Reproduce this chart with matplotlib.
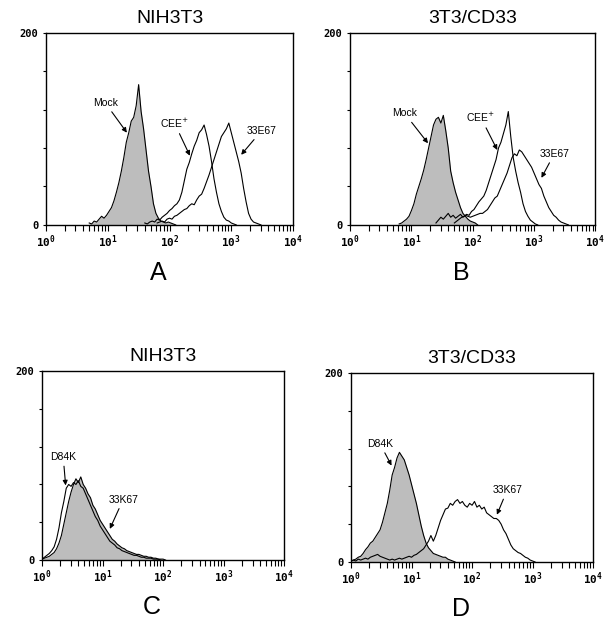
import numpy as np
import matplotlib
matplotlib.use("Agg")
import matplotlib.pyplot as plt

# histogram counts, one value per 0.04-decade bin, starting at the given log10 channel
BIN = 0.04

# panel A  (NIH3T3)
A_MOCK_START = 0.70
A_MOCK = [2, 1, 4, 3, 6, 9, 7, 10, 14, 18, 25, 34, 44, 56, 70, 86, 96, 108, 112, 124,
          146, 118, 100, 78, 56, 40, 22, 12, 7, 4, 3, 2, 3, 2, 1, 0]
A_CEE_START = 1.60
A_CEE = [2, 1, 3, 4, 3, 6, 5, 8, 10, 12, 15, 17, 20, 22, 26, 34, 46, 58, 65, 74,
         82, 88, 96, 99, 104, 94, 82, 66, 48, 34, 22, 14, 8, 5, 4, 2, 1, 0]
A_33E_START = 1.80
A_33E = [2, 3, 4, 3, 6, 7, 6, 9, 10, 12, 14, 16, 17, 20, 22, 21, 26, 30, 32, 38,
         45, 52, 60, 68, 76, 84, 92, 96, 100, 106, 96, 86, 76, 66, 54, 38, 24, 12, 6, 3,
         2, 1, 0]

# panel B  (3T3/CD33)
B_MOCK_START = 0.80
B_MOCK = [1, 2, 4, 6, 9, 15, 22, 32, 40, 48, 57, 68, 80, 92, 104, 110, 112, 106, 114, 98,
          80, 56, 44, 34, 26, 18, 12, 9, 6, 4, 3, 2, 0]
B_CEE_START = 1.70
B_CEE = [2, 4, 6, 8, 9, 11, 10, 14, 16, 20, 24, 27, 30, 36, 44, 52, 60, 68, 80, 86,
         95, 104, 118, 92, 70, 56, 44, 34, 22, 14, 9, 5, 3, 1, 0]
B_33E_START = 1.40
B_33E = [2, 5, 8, 6, 9, 12, 8, 10, 7, 9, 11, 8, 10, 9, 8, 9, 10, 11, 12, 12,
         14, 16, 20, 24, 28, 30, 36, 42, 48, 54, 62, 70, 74, 72, 78, 76, 72, 68, 64, 60,
         54, 48, 42, 38, 30, 24, 18, 14, 10, 8, 5, 3, 2, 1, 0]

# panel C  (NIH3T3)
C_D84K_START = 0.00
C_D84K = [1, 3, 5, 7, 10, 14, 22, 34, 50, 62, 76, 80, 78, 82, 80, 84, 78, 76, 70, 64,
          58, 52, 46, 42, 36, 32, 28, 24, 20, 18, 16, 13, 12, 10, 9, 8, 7, 6, 5, 5,
          4, 3, 3, 2, 2, 2, 1, 1, 1, 0]
C_33K_START = 0.00
C_33K = [1, 2, 3, 4, 6, 8, 12, 18, 26, 38, 50, 62, 72, 80, 86, 82, 88, 80, 76, 70,
         66, 58, 54, 48, 42, 38, 34, 30, 26, 22, 20, 17, 15, 13, 12, 10, 9, 8, 7, 6,
         6, 5, 4, 4, 3, 3, 2, 2, 1, 1, 1, 0]

# panel D  (3T3/CD33)
D_D84K_START = 0.00
D_D84K = [1, 2, 3, 5, 6, 9, 13, 16, 20, 22, 26, 30, 34, 42, 52, 62, 76, 92, 100, 110,
          116, 112, 108, 100, 92, 82, 72, 62, 50, 38, 28, 20, 15, 12, 9, 8, 7, 6, 5, 5,
          3, 2, 1, 0]
D_33K_START = 0.00
D_33K = [1, 2, 1, 3, 2, 3, 4, 3, 5, 6, 7, 8, 6, 5, 4, 3, 2, 3, 2, 3,
         4, 3, 4, 5, 6, 5, 7, 8, 10, 12, 14, 18, 22, 28, 22, 28, 36, 44, 50, 56,
         57, 62, 60, 64, 66, 62, 64, 60, 58, 62, 60, 64, 58, 60, 56, 58, 52, 50, 48, 46,
         46, 44, 40, 34, 30, 24, 18, 14, 12, 10, 9, 7, 5, 4, 2, 1, 0]

TITLES = ["NIH3T3", "3T3/CD33", "NIH3T3", "3T3/CD33"]
LETTERS = ["A", "B", "C", "D"]

GRAY = "#bdbdbd"
MONO = "DejaVu Sans Mono"
SANS = "Liberation Sans"

# axes rectangles in figure fractions
RECTS = [
    [0.0754, 0.643, 0.405, 0.305],
    [0.574, 0.643, 0.402, 0.305],
    [0.0689, 0.111, 0.397, 0.300],
    [0.5754, 0.108, 0.397, 0.300],
]

# (start, counts, filled) curves per panel
PANELS = [
    [(A_MOCK_START, A_MOCK, True), (A_CEE_START, A_CEE, False), (A_33E_START, A_33E, False)],
    [(B_MOCK_START, B_MOCK, True), (B_CEE_START, B_CEE, False), (B_33E_START, B_33E, False)],
    [(C_33K_START, C_33K, True), (C_D84K_START, C_D84K, False)],
    [(D_D84K_START, D_D84K, True), (D_33K_START, D_33K, False)],
]

# label, text position (log10 x, y), arrow head (log10 x, y)
NOTES = [
    [("Mock", (0.96, 127), (1.31, 96)), ("CEE$^{+}$", (2.08, 106), (2.33, 72)),
     ("33E67", (3.49, 98), (3.16, 73))],
    [("Mock", (0.89, 116), (1.27, 85)), ("CEE$^{+}$", (2.13, 112), (2.40, 78)),
     ("33E67", (3.33, 74), (3.12, 49))],
    [("D84K", (0.35, 109), (0.39, 79)), ("33K67", (1.34, 64), (1.12, 33))],
    [("D84K", (0.48, 125), (0.67, 102)), ("33K67", (2.58, 76), (2.41, 50))],
]


def draw_panel(ax, curves, notes, title, letter):
    for start, counts, filled in curves:
        counts = np.asarray(counts, dtype=float)
        x = 10 ** (start + BIN * np.arange(len(counts)))
        if filled:
            ax.fill_between(x, counts, color=GRAY, lw=0, zorder=1)
        ax.plot(x, counts, color="black", lw=0.8, zorder=2)

    for label, (tx, ty), (hx, hy) in notes:
        ax.annotate(label, xy=(10 ** hx, hy), xytext=(10 ** tx, ty),
                    ha="center", va="center", fontsize=7.5, family=SANS,
                    arrowprops=dict(arrowstyle="-|>", color="black", lw=0.8,
                                    mutation_scale=7, shrinkA=1, shrinkB=0))

    ax.set_xscale("log")
    ax.set_xlim(1, 1e4)
    ax.set_ylim(0, 200)
    ax.set_xticks([1, 10, 100, 1000, 10000])
    ax.set_xticklabels([r"$\mathregular{10^{%d}}$" % i for i in range(5)],
                       family=MONO, fontsize=8, fontweight="bold")
    ax.xaxis.set_minor_locator(matplotlib.ticker.LogLocator(base=10, subs=np.arange(2, 10)))
    ax.xaxis.set_minor_formatter(matplotlib.ticker.NullFormatter())
    ax.set_yticks([0, 40, 80, 120, 160, 200])
    ax.set_yticklabels(["0", "", "", "", "", "200"], family=MONO, fontsize=7.5,
                       fontweight="bold")
    ax.tick_params(axis="x", which="both", direction="out", length=4, width=0.8, pad=2)
    ax.tick_params(axis="y", direction="out", length=2.5, width=0.8, pad=3)
    for s in ax.spines.values():
        s.set_linewidth(1.0)

    ax.set_title(title, family=SANS, fontsize=14, pad=7)
    ax.text(0.455, -0.25, letter, transform=ax.transAxes, ha="center", va="center",
            family=SANS, fontsize=18)


fig = plt.figure(figsize=(6.1, 6.3), dpi=100)
for i in range(4):
    ax = fig.add_axes(RECTS[i])
    draw_panel(ax, PANELS[i], NOTES[i], TITLES[i], LETTERS[i])

fig.savefig("out.png", dpi=100, facecolor="white")
